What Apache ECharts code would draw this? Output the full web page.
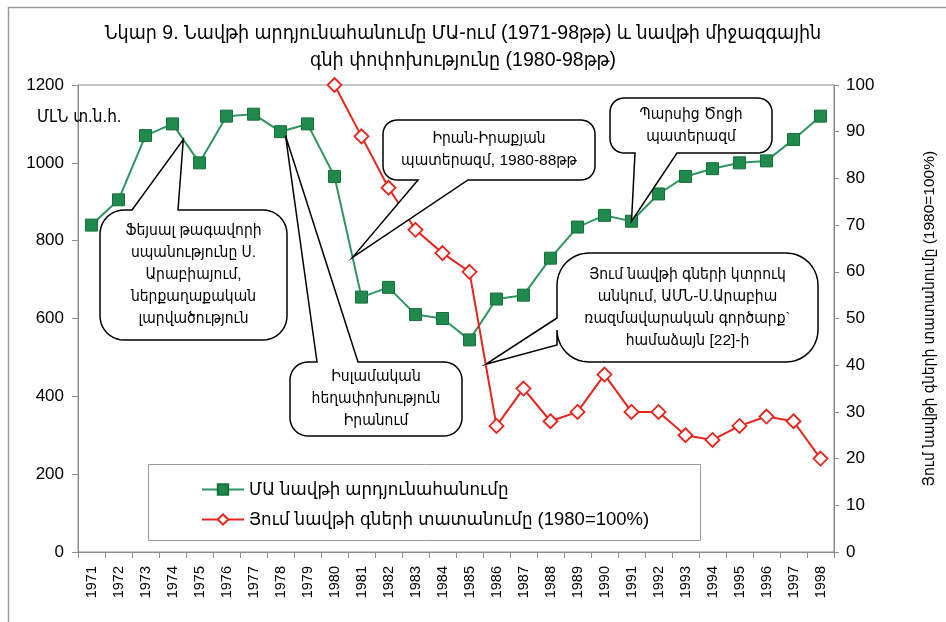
<!DOCTYPE html>
<html>
<head>
<meta charset="utf-8">
<script src="https://cdn.jsdelivr.net/npm/echarts@6/dist/echarts.min.js"></script>
<style>
html,body{margin:0;padding:0;background:#fff;}
#chart{width:946px;height:622px;}
</style>
</head>
<body>
<div id="chart"></div>
<script>
const years = ['1971','1972','1973','1974','1975','1976','1977','1978','1979','1980','1981','1982','1983','1984','1985','1986','1987','1988','1989','1990','1991','1992','1993','1994','1995','1996','1997','1998'];
const production = [840,905,1070,1100,1000,1120,1125,1080,1100,965,655,680,610,600,545,650,660,755,835,865,850,920,965,985,1000,1005,1060,1120];
const priceIndex = [null,null,null,null,null,null,null,null,null,100,89,78,69,64,60,27,35,28,30,38,30,30,25,24,27,29,28,20];
const leftTicks = [0,200,400,600,800,1000,1200];
const rightTicks = [0,10,20,30,40,50,60,70,80,90,100];
const seriesNames = ['ՄԱ նավթի արդյունահանումը','Յում նավթի գների տատանումը (1980=100%)'];
const titleLines = ['Նկար 9. Նավթի արդյունահանումը ՄԱ-ում (1971-98թթ) և նավթի միջազգային','գնի փոփոխությունը (1980-98թթ)'];
const leftAxisName = 'ՄԼՆ տ.ն.հ.';
const rightAxisName = 'Յում նավթի գների տատանումը (1980=100%)';
const callouts = [
  {text:'Ֆեյսալ թագավորի\nսպանությունը Ս.\nԱրաբիայում,\nներքաղաքական\nլարվածություն'},
  {text:'Իսլամական\nհեղափոխություն\nԻրանում'},
  {text:'Իրան-Իրաքյան\nպատերազմ, 1980-88թթ'},
  {text:'Պարսից Ծոցի\nպատերազմ'},
  {text:'Յում նավթի գների կտրուկ\nանկում, ԱՄՆ-Ս.Արաբիա\nռազմավարական գործարք`\nհամաձայն [22]-ի'}
];

const FONT = '"Liberation Sans","DejaVu Sans Condensed","DejaVu Sans",sans-serif';
const chart = echarts.init(document.getElementById('chart'), null, {renderer:'canvas'});

chart.setOption({
  backgroundColor:'#fff',
  animation:false,
  title:{
    text: titleLines.join('\n'),
    left: 458, top: 15, textAlign:'center',
    textStyle:{fontFamily:FONT, fontSize:19.5, fontWeight:'normal', color:'#000', lineHeight:27}
  },
  grid:{left:78, right:112, top:85, bottom:70, show:true, borderColor:'#8c8c8c', borderWidth:1, containLabel:false, outerBoundsMode:'none'},
  legend:{
    orient:'vertical', left:196, top:475, itemGap:11, itemWidth:42, itemHeight:13,
    textStyle:{fontFamily:FONT, fontSize:18.5, color:'#000'},
    data: seriesNames, z:10
  },
  xAxis:{
    type:'category', data: years, boundaryGap:true,
    axisLine:{lineStyle:{color:'#8c8c8c'}},
    axisTick:{show:true, interval:0, length:6, lineStyle:{color:'#8c8c8c'}},
    axisLabel:{interval:0, rotate:90, fontFamily:FONT, fontSize:14.5, color:'#000', margin:14}
  },
  yAxis:[
    {type:'value', min:0, max:1200, interval:200, position:'left',
     axisLine:{show:true, lineStyle:{color:'#8c8c8c'}},
     axisTick:{show:true, length:6, lineStyle:{color:'#8c8c8c'}},
     splitLine:{show:false},
     axisLabel:{fontFamily:FONT, fontSize:17, color:'#000', margin:14,
       formatter:v=>leftTicks.includes(v)?String(v):''}},
    {type:'value', min:0, max:100, interval:10, position:'right',
     name: rightAxisName, nameLocation:'middle', nameRotate:90, nameGap:88,
     nameTextStyle:{fontFamily:FONT, fontSize:15.5, color:'#000'},
     axisLine:{show:true, lineStyle:{color:'#8c8c8c'}},
     axisTick:{show:true, length:5, lineStyle:{color:'#8c8c8c'}},
     splitLine:{show:false},
     axisLabel:{fontFamily:FONT, fontSize:17, color:'#000', margin:12,
       formatter:v=>rightTicks.includes(v)?String(v):''}}
  ],
  series:[
    {name:seriesNames[0], type:'line', yAxisIndex:0, data:production,
     symbol:'rect', symbolSize:12,
     lineStyle:{color:'#2e9460', width:2},
     itemStyle:{color:'#1f8a4c', borderColor:'#17703c', borderWidth:1}, z:3},
    {name:seriesNames[1], type:'line', yAxisIndex:1, data:priceIndex,
     symbol:'diamond', symbolSize:14, showAllSymbol:true,
     lineStyle:{color:'#e8241c', width:2},
     itemStyle:{color:'#fff', borderColor:'#e8241c', borderWidth:1.8}, z:4}
  ]
});

function px(idx, val, axis){
  return chart.convertToPixel({xAxisIndex:0, yAxisIndex:axis}, [idx, val]);
}
function lerp(a,b,t){return [a[0]+(b[0]-a[0])*t, a[1]+(b[1]-a[1])*t];}

function arcPts(cx,cy,r,a0,a1){
  const pts=[]; const n=10;
  for(let i=0;i<=n;i++){const a=a0+(a1-a0)*i/n; pts.push([cx+r*Math.cos(a), cy+r*Math.sin(a)]);}
  return pts;
}
function balloon(box, r, w){
  const [x1,y1,x2,y2]=box; const P=[];
  P.push(...arcPts(x1+r,y1+r,r,Math.PI,1.5*Math.PI));
  if(w.side==='top'){P.push([w.a,y1],w.tip,[w.b,y1]);}
  P.push(...arcPts(x2-r,y1+r,r,1.5*Math.PI,2*Math.PI));
  P.push(...arcPts(x2-r,y2-r,r,0,0.5*Math.PI));
  if(w.side==='bottom'){P.push([w.b,y2],w.tip,[w.a,y2]);}
  P.push(...arcPts(x1+r,y2-r,r,0.5*Math.PI,Math.PI));
  if(w.side==='left'){P.push([x1,w.b],w.tip,[x1,w.a]);}
  return P;
}

const t1 = lerp(px(3,production[3],0), px(4,production[4],0), 0.4);
const t2 = px(7,production[7],0); t2[0]+=5; t2[1]+=4;
const t3 = lerp(px(9,production[9],0), px(10,production[10],0), 0.67);
const t4 = px(20,production[20],0);
const t5 = lerp(px(14,priceIndex[14],1), px(15,priceIndex[15],1), 0.6);

const defs = [
  {box:[100,210,287,340], r:24, w:{side:'top', a:132, b:178, tip:t1}},
  {box:[290,362,462,436], r:18, w:{side:'top', a:317, b:358, tip:t2}},
  {box:[383,120,595,180], r:14, w:{side:'bottom', a:418, b:468, tip:t3}},
  {box:[610,98,772,153], r:14, w:{side:'bottom', a:635, b:677, tip:t4}},
  {box:[557,253,818,362], r:32, w:{side:'left', a:318, b:345, tip:t5}}
];

const graphics = [
  {type:'rect', shape:{x:8.5,y:7.5,width:960,height:640}, style:{fill:null, stroke:'#9a9a9a', lineWidth:1.5}, z:0, silent:true},
  {type:'rect', shape:{x:148.5,y:464.5,width:552,height:76}, style:{fill:'#fff', stroke:'#9a9a9a', lineWidth:1}, z:5},
  {type:'text', x:37, y:117, style:{text:leftAxisName, fill:'#000', font:'17px '+FONT, textVerticalAlign:'middle'}, z:6}
];
defs.forEach((d,i)=>{
  graphics.push({type:'polygon', shape:{points:balloon(d.box,d.r,d.w)}, style:{fill:'#fff', stroke:'#000', lineWidth:1.5}, z:20});
  graphics.push({type:'text', x:(d.box[0]+d.box[2])/2, y:(d.box[1]+d.box[3])/2,
    style:{text:callouts[i].text, fill:'#000', font:'15.5px '+FONT, textAlign:'center', textVerticalAlign:'middle', lineHeight:22}, z:21});
});
chart.setOption({graphic:graphics});
</script>
</body>
</html>
